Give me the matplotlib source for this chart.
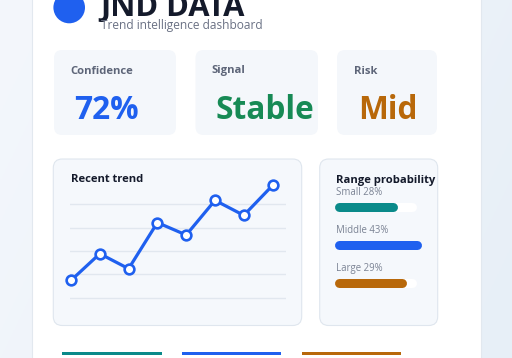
import matplotlib
matplotlib.use('Agg')
import matplotlib.pyplot as plt
from matplotlib.patches import FancyBboxPatch, Circle, Rectangle
from matplotlib.colors import to_rgb
import numpy as np

# ---------------- data ----------------
kpi_labels = ["Confidence", "Signal", "Risk"]
kpi_values = ["72%", "Stable", "Mid"]
trend_values = [7.4, 18.8, 12.4, 32.1, 26.8, 41.6, 35.2, 48.0]
trend_grid = [0, 10, 20, 30, 40]
range_categories = ["Small", "Middle", "Large"]
range_pcts = [28, 43, 29]
range_bar_fill = [74, 107, 86]   # bar fill as drawn (track = 100)

# ---------------- style ----------------
BLUE = "#1f60ef"
TEAL = "#0a8a8a"
ORANGE = "#b8680a"
GREEN = "#178a55"
DARK = "#141a2b"
GRAY = "#5d6578"
LIGHT_GRAY = "#7b8394"
CARD = "#f4f7fb"
CARD_EDGE = "#dfe6ee"
kpi_colors = [BLUE, GREEN, ORANGE]
range_colors = [TEAL, BLUE, ORANGE]
FONT = "Open Sans"

W, H = 512, 358
fig = plt.figure(figsize=(5.12, 3.58), dpi=100)
bg = fig.add_axes([0, 0, 1, 1])
bg.set_xlim(0, W)
bg.set_ylim(H, 0)
bg.axis('off')

# background gradient
c1 = np.array(to_rgb("#f4f7fc"))
c2 = np.array(to_rgb("#e7eff7"))
xx, yy = np.meshgrid(np.linspace(0, 1, 200), np.linspace(0, 1, 140))
t = np.clip(0.75 * xx + 0.25 * yy, 0, 1)[..., None]
img = c1 * (1 - t) + c2 * t
bg.imshow(img, extent=[0, W, H, 0], aspect='auto', zorder=0)

# main white card
bg.add_patch(Rectangle((32, -10), 449, H + 20, fc="white", ec="#e2e8ef", lw=0.8, zorder=1))


def card(x0, y0, x1, y1, r=8, ec="none", fc=CARD):
    bg.add_patch(FancyBboxPatch((x0, y0), x1 - x0, y1 - y0,
                                boxstyle=f"round,pad=0,rounding_size={r}",
                                fc=fc, ec=ec, lw=0.8, zorder=2))


# header
bg.add_patch(Circle((69.2, 7.5), 15.8, fc=BLUE, ec="none", zorder=3))
bg.text(100, 16.5, "JND DATA", fontsize=22.2, fontweight='bold', color=DARK,
        family=FONT, va='baseline', ha='left', zorder=4)
bg.text(101, 29.5, "Trend intelligence dashboard", fontsize=8.6, color="#6a7184",
        family=FONT, va='baseline', ha='left', zorder=4)

# KPI cards
kpi_boxes = [(54, 50, 176, 135), (195.5, 50, 318, 135), (337, 50, 437, 135)]
kpi_label_x = [70, 211.5, 354]
kpi_value_x = [74, 215.5, 358.5]
for (x0, y0, x1, y1), lab, val, col, lx, vx in zip(kpi_boxes, kpi_labels, kpi_values,
                                                   kpi_colors, kpi_label_x, kpi_value_x):
    card(x0, y0, x1, y1)
    bg.text(lx, 71, lab, fontsize=8.1, fontweight='bold', color=GRAY, family=FONT,
            va='center', ha='left', zorder=4)
    bg.text(vx, 119, val, fontsize=22.8, fontweight='bold', color=col, family=FONT,
            va='baseline', ha='left', zorder=4)

# chart cards
card(53.3, 159, 301.7, 325.5, r=9, ec=CARD_EDGE, fc="#f5f8fc")
card(319.7, 159, 437.7, 325.5, r=9, ec=CARD_EDGE, fc="#f5f8fc")
bg.text(71, 180, "Recent trend", fontsize=8.1, fontweight='bold', color=DARK,
        family=FONT, va='center', ha='left', zorder=4)
bg.text(335.7, 180, "Range probability", fontsize=8.1, fontweight='bold', color=DARK,
        family=FONT, va='center', ha='left', zorder=4)

# bottom accent lines
for (x0, x1), col in zip([(62.3, 161.7), (182, 281), (301.7, 400.7)], range_colors):
    bg.add_patch(Rectangle((x0, 351.5), x1 - x0, 3, fc=col, ec="none", zorder=3))


def fig_axes(px0, py0, px1, py1):
    return fig.add_axes([px0 / W, 1 - py1 / H, (px1 - px0) / W, (py1 - py0) / H])


# ---------------- trend line ----------------
gx0, gx1 = 70, 286
step = 28.8
first = 71
ax = fig_axes(gx0, 175, gx1, 305)
ax.patch.set_alpha(0)
ax.set_xlim((gx0 - first) / step, (gx1 - first) / step)
ypx0, ypg = 297.7, 2.34  # pixel of value 0, px per unit
ax.set_ylim((ypx0 - 305) / ypg, (ypx0 - 175) / ypg)
for g in trend_grid:
    ax.axhline(g, color="#e1e7ef", lw=1.0, zorder=1)
ax.plot(range(len(trend_values)), trend_values, color=BLUE, lw=2.3,
        marker='o', markersize=7.0, markerfacecolor='white',
        markeredgecolor=BLUE, markeredgewidth=1.9, zorder=3,
        solid_joinstyle='round', clip_on=False)
ax.axis('off')

# ---------------- range bars ----------------
bx0, bx1 = 338.8, 412.2
bax = fig_axes(bx0, 187.5, bx1, 301.5)
bax.patch.set_alpha(0)
bax.set_xlim(0, 100)
bax.set_ylim(len(range_categories) - 0.5, -0.5)
bax.axis('off')
lw_bar = 9 * 72 / 100
for i, (cat, pct, fill, col) in enumerate(zip(range_categories, range_pcts,
                                              range_bar_fill, range_colors)):
    bax.plot([0, 100], [i, i], color="white", lw=lw_bar, solid_capstyle='round',
             clip_on=False, zorder=1)
    bax.plot([0, fill], [i, i], color=col, lw=lw_bar, solid_capstyle='round',
             clip_on=False, zorder=2)
    bax.text(-4.2, i - 0.36, f"{cat} {pct}%", fontsize=6.9, color=LIGHT_GRAY,
             family=FONT, va='center', ha='left', clip_on=False)

fig.savefig("out.png", dpi=100)
